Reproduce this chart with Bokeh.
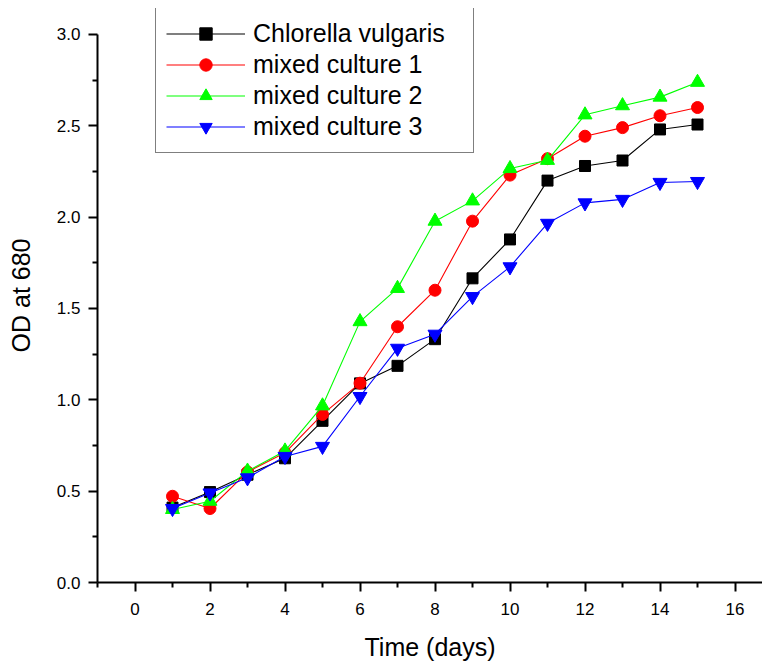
from bokeh.plotting import figure
from bokeh.models import FixedTicker, Range1d, Legend, LegendItem, PrintfTickFormatter
from bokeh.embed import file_html
from bokeh.resources import INLINE

days = list(range(1, 16))
chlorella = [0.41, 0.495, 0.59, 0.68, 0.885, 1.09, 1.186, 1.332, 1.665, 1.878, 2.20, 2.28, 2.31, 2.48, 2.507]
mixed1 = [0.472, 0.405, 0.605, 0.71, 0.92, 1.091, 1.40, 1.60, 1.978, 2.23, 2.32, 2.443, 2.49, 2.555, 2.60]
mixed2 = [0.40, 0.445, 0.61, 0.72, 0.967, 1.428, 1.61, 1.978, 2.089, 2.266, 2.311, 2.56, 2.61, 2.657, 2.738]
mixed3 = [0.405, 0.49, 0.573, 0.69, 0.745, 1.018, 1.282, 1.359, 1.565, 1.728, 1.966, 2.078, 2.097, 2.19, 2.195]

series_names = ["Chlorella vulgaris", "mixed culture 1", "mixed culture 2", "mixed culture 3"]
x_major = [0, 2, 4, 6, 8, 10, 12, 14, 16]
x_minor = [-1, 1, 3, 5, 7, 9, 11, 13, 15, 17]
y_major = [0.0, 0.5, 1.0, 1.5, 2.0, 2.5, 3.0]
y_minor = [0.25, 0.75, 1.25, 1.75, 2.25, 2.75]
x_title = "Time (days)"
y_title = "OD at 680"

FONT = "Liberation Sans"

# frame spans y from 8px to 583px; value 3.0 sits at 34px
p = figure(width=762, height=663, output_backend="svg", toolbar_location=None,
           x_range=Range1d(-1.0, 16.733), y_range=Range1d(0, 3.0 + 26 / 183.0),
           min_border_left=97, min_border_right=0, min_border_top=8,
           min_border_bottom=80)
p.outline_line_color = None
p.grid.visible = False
p.background_fill_color = "white"
p.border_fill_color = "white"

p.xaxis.ticker = FixedTicker(ticks=x_major, minor_ticks=x_minor)
p.yaxis.ticker = FixedTicker(ticks=y_major, minor_ticks=y_minor)
p.yaxis.formatter = PrintfTickFormatter(format="%.1f")
p.yaxis.bounds = (0, 3.0)
p.xaxis.axis_label = x_title
p.yaxis.axis_label = y_title

for ax in (p.xaxis, p.yaxis):
    ax.axis_line_width = 2
    ax.axis_line_color = "black"
    ax.major_tick_line_width = 2
    ax.minor_tick_line_width = 2
    ax.major_tick_line_color = "black"
    ax.minor_tick_line_color = "black"
    ax.major_tick_out = 9
    ax.major_tick_in = 0
    ax.minor_tick_out = 5
    ax.minor_tick_in = 0
    ax.major_label_text_font = FONT
    ax.major_label_text_font_size = "17px"
    ax.major_label_text_color = "black"
    ax.axis_label_text_font = FONT
    ax.axis_label_text_font_size = "25px"
    ax.axis_label_text_font_style = "normal"
    ax.axis_label_text_color = "black"

p.xaxis.major_label_standoff = 11
p.xaxis.axis_label_standoff = 15
p.yaxis.major_label_standoff = 8
p.yaxis.axis_label_standoff = 19

data = [chlorella, mixed1, mixed2, mixed3]
colors = ["black", "#ff0000", "#00ff00", "#0000ff"]
markers = ["square", "circle", "triangle", "inverted_triangle"]
sizes = [11, 12, 14, 14]

items = []
for name, vals, c, m, s in zip(series_names, data, colors, markers, sizes):
    ln = p.line(days, vals, line_color=c, line_width=1.1)
    sc = p.scatter(days, vals, marker=m, size=s, fill_color=c, line_color=c)
    items.append(LegendItem(label=name, renderers=[ln, sc]))

legend = Legend(items=items, location=(58, 429), label_text_font=FONT,
                label_text_font_size="25px", label_text_color="black",
                glyph_width=79, glyph_height=31,
                label_height=31, spacing=0, padding=10, margin=0,
                label_standoff=8, label_width=210, border_line_color="black",
                border_line_width=1.2, background_fill_alpha=1.0)
p.add_layout(legend, "center")

open("out.html", "w").write(file_html(p, INLINE))
